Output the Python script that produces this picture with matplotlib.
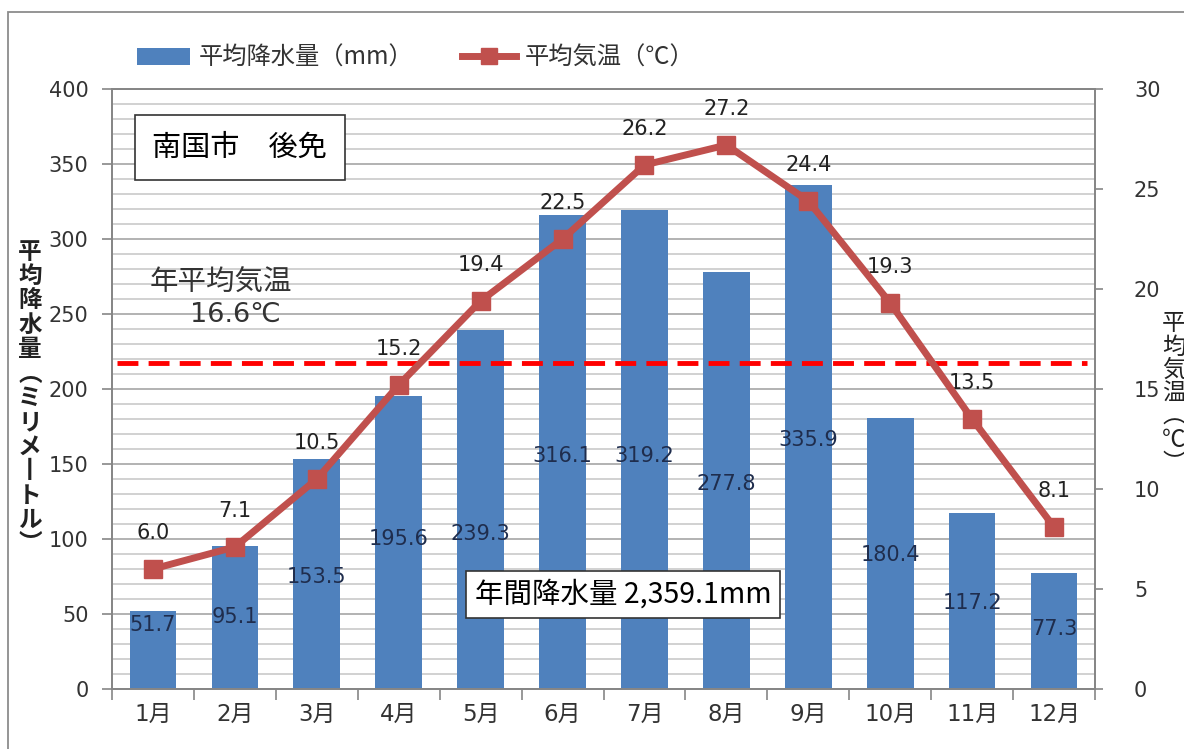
import matplotlib

matplotlib.use("Agg")
import matplotlib.pyplot as plt  # noqa: E402
from matplotlib.lines import Line2D  # noqa: E402
from matplotlib.patches import Patch, Rectangle  # noqa: E402
from matplotlib.ticker import MultipleLocator  # noqa: E402
import numpy as np  # noqa: E402

plt.rcParams["font.family"] = ["DejaVu Sans", "Noto Sans CJK JP"]

# --- data ---
months = ["1月", "2月", "3月", "4月", "5月", "6月",
          "7月", "8月", "9月", "10月", "11月", "12月"]
rain_mm = [51.7, 95.1, 153.5, 195.6, 239.3, 316.1,
           319.2, 277.8, 335.9, 180.4, 117.2, 77.3]
temp_c = [6.0, 7.1, 10.5, 15.2, 19.4, 22.5,
          26.2, 27.2, 24.4, 19.3, 13.5, 8.1]
annual_temp_label = "16.6℃"
annual_temp_line = 16.3  # where the dashed line is drawn in the picture
annual_rain_label = "年間降水量 2,359.1mm"
place_label = "南国市　後免"

# heights (mm) at which the bar value labels sit inside the bars
rain_label_y = [42.7, 48, 74.7, 100, 103, 155.3, 155.3, 136.7, 166, 89.3, 57.3, 40]

BAR = "#4F81BD"
LINE = "#C0504D"
TXT = "#333333"
AXC = "#868686"
JP = ["Noto Sans CJK JP"]

fig = plt.figure(figsize=(11.84, 7.49), dpi=100)
ax = fig.add_axes([112 / 1184, 60 / 749, 983 / 1184, 600 / 749])
ax2 = ax.twinx()

x = np.arange(len(months))

# grid: light lines every 10 mm, a bit darker every 50 mm
ax.set_axisbelow(True)
ax.yaxis.set_major_locator(MultipleLocator(50))
ax.yaxis.set_minor_locator(MultipleLocator(10))
ax.grid(True, axis="y", which="minor", color="#CACACA", lw=1.2)
ax.grid(True, axis="y", which="major", color="#ADADAD", lw=1.3)

ax.bar(x, rain_mm, width=0.57, color=BAR, zorder=2)
for xi, v, ly in zip(x, rain_mm, rain_label_y):
    ax.text(xi, ly, f"{v:.1f}", ha="center", va="center",
            fontsize=15, color="#1F2D4D", zorder=3)

ax.set_xlim(-0.5, len(months) - 0.5)
ax.set_ylim(0, 400)
ax.set_xticks(x)
ax.set_xticklabels(months)
ax.set_xticks(np.arange(-0.5, len(months)), minor=True)
ax.tick_params(axis="x", which="major", length=0, pad=10, labelsize=16.5, labelcolor=TXT)
ax.tick_params(axis="x", which="minor", length=8, color=AXC, width=1.2)
ax.tick_params(axis="y", which="major", length=7, color=AXC, width=1.2,
               pad=10, labelsize=15, labelcolor=TXT)
ax.tick_params(axis="y", which="minor", length=0)

# temperature line on the right axis
ax2.plot(x, temp_c, color=LINE, lw=5, marker="s", ms=13, zorder=4)
for xi, t in zip(x, temp_c):
    ax2.annotate(f"{t:.1f}", (xi, t), xytext=(0, 26), textcoords="offset points",
                 ha="center", va="center", fontsize=15, color="#222222")
ax2.plot([-0.44, 11.4], [annual_temp_line, annual_temp_line], color="#FF0000",
         lw=3.5, dashes=(4.3, 2.1), zorder=3)
ax2.set_ylim(0, 30)
ax2.yaxis.set_major_locator(MultipleLocator(5))
ax2.tick_params(axis="y", length=6, color=AXC, width=1.2, pad=22,
                labelsize=15, labelcolor=TXT)

for a in (ax, ax2):
    for side in ("left", "right", "bottom", "top"):
        a.spines[side].set_color(AXC)
        a.spines[side].set_linewidth(1.3)

# annotation boxes and texts
ax2.text(0.130, 0.9025, place_label, transform=ax2.transAxes, ha="center",
         va="center", fontsize=21, family=JP, color="black",
         bbox=dict(boxstyle="square,pad=0.6", facecolor="white",
                   edgecolor="#333333", lw=1.2), zorder=6)
ax2.text(0.111, 0.677, "年平均気温", transform=ax2.transAxes, ha="center",
         va="center", fontsize=20.5, family=JP, color="#333333")
ax2.text(0.126, 0.623, annual_temp_label, transform=ax2.transAxes, ha="center",
         va="center", fontsize=19.5, color="#333333")
ax2.text(0.520, 0.157, annual_rain_label, transform=ax2.transAxes, ha="center",
         va="center", fontsize=20.5, family=JP, color="black",
         bbox=dict(boxstyle="square,pad=0.3", facecolor="white",
                   edgecolor="#333333", lw=1.2), zorder=6)

# vertical axis titles, one character per line
left_title = "\n".join("平均降水量︵ミリメ丨トル︶")
right_title = "\n".join("平均気温︵℃︶")
fig.text(30 / 1184, 1 - 398 / 749, left_title, ha="center", va="center",
         fontsize=17, fontweight="bold", linespacing=1.02,
         family=JP, color="#222222")
fig.text(1174 / 1184, 1 - 394 / 749, right_title, ha="center", va="center",
         fontsize=17, linespacing=1.02, family=JP, color="#222222")

# legend above the plot
handles = [Patch(facecolor=BAR),
           Line2D([], [], color=LINE, lw=5, marker="s", ms=11)]
fig.legend(handles, ["平均降水量（mm）", "平均気温（℃）"], loc="center left",
           bbox_to_anchor=(137 / 1184, 1 - 58 / 749), ncol=2, frameon=False,
           handlelength=2.2, handletextpad=0.35, columnspacing=2.0,
           borderpad=0, borderaxespad=0, labelcolor=TXT,
           prop={"family": JP, "size": 17.5})

# outer chart border
fig.patches.append(Rectangle((8 / 1184, -0.1), 1.2, 1.1 - 12 / 749,
                             transform=fig.transFigure, fill=False,
                             edgecolor="#8C8C8C", lw=1.3))

fig.savefig("out.png", dpi=100)
